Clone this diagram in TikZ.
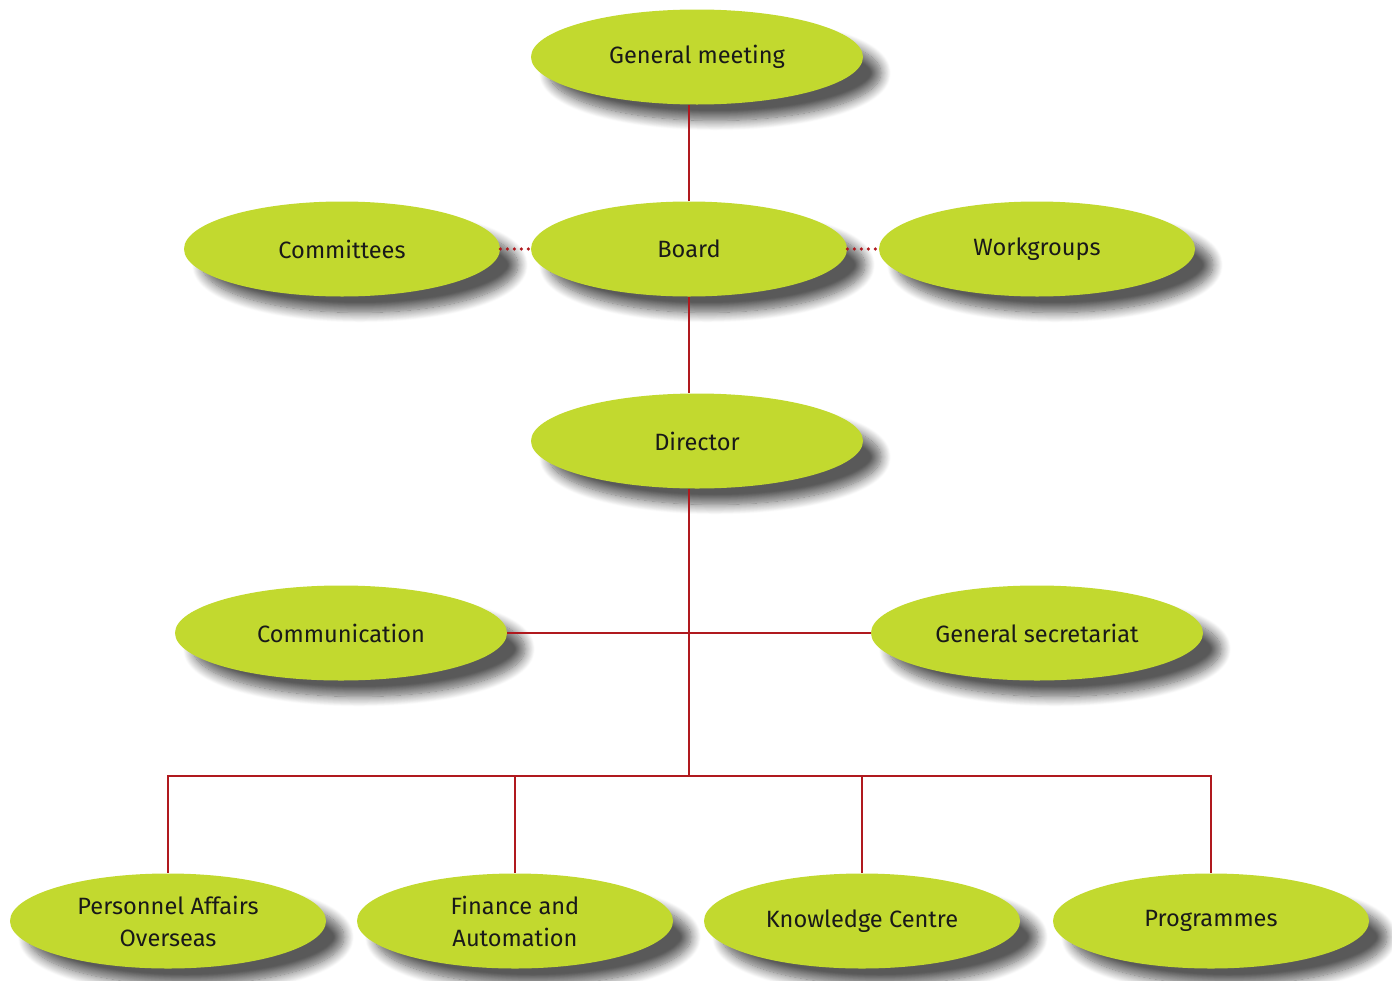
\documentclass[tikz,border=0pt]{standalone}
\usepackage{fontspec}
\setmainfont{Fira Sans}
\usetikzlibrary{shapes.geometric, shadows.blur}
\definecolor{unitgreen}{HTML}{C2D92F}
\definecolor{linkred}{HTML}{B0191E}

\begin{document}
\begin{tikzpicture}[x=0.5pt,y=-0.5pt]
    \tikzstyle{unit}=[ellipse,fill=unitgreen,minimum width=158pt,minimum height=47.5pt,inner sep=0pt,
        align=center,font=\fontsize{11.8}{16}\selectfont,text=black!90,
        blur shadow={shadow xshift=9pt,shadow yshift=-8pt,shadow blur radius=5pt,
                     shadow blur steps=14,shadow opacity=65}]
    \tikzstyle{wide}=[minimum width=166pt]
    \tikzstyle{link}=[draw=linkred,line width=1.1pt]
    \tikzstyle{loose}=[draw=linkred,line width=1.8pt,dash pattern=on 0pt off 3.5pt,line cap=round]

    \useasboundingbox (0,0) rectangle (1392,980);

    % Top of the chart
    \node[unit,wide] (GM) at (697,57) {General meeting};
    \node[unit] (Com) at (342,249) {Committees};
    \node[unit] (B) at (689,249) {Board};
    \node[unit] (W) at (1037,249) {Workgroups};
    \node[unit,wide] (D) at (697,441) {Director};

    % Staff units
    \node[unit,wide] (C) at (341,633) {Communication};
    \node[unit,wide] (S) at (1037,633) {General secretariat};

    % Departments
    \foreach \name / \x / \txt in {P/168/Personnel Affairs\\Overseas, F/515/Finance and\\Automation,
                                   K/862/Knowledge Centre, R/1211/Programmes}
        \node[unit] (\name) at (\x,921) {\txt};

    \coordinate (bus) at (689,776);

    \draw[link] (B.north) -- (B |- GM.south);
    \draw[link] (B.south) -- (B |- D.north);
    \draw[link] (B |- D.south) -- (bus);
    \draw[link] (C.east) -- (S.west);
    \foreach \dest in {P,F,K,R}
        \draw[link] (bus) -| (\dest.north);

    \draw[loose] (Com.east) -- (B.west);
    \draw[loose] (B.east) -- (W.west);
\end{tikzpicture}
\end{document}
